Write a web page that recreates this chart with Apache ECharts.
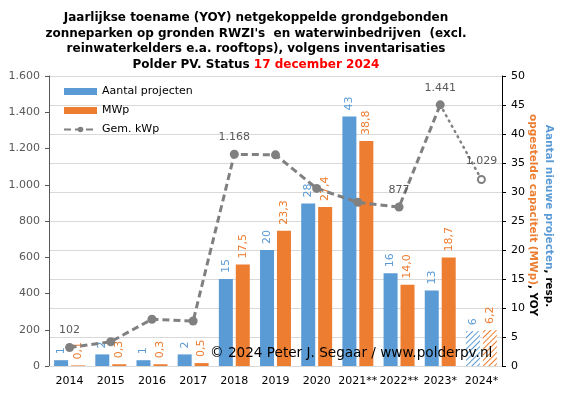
<!DOCTYPE html>
<html>
<head>
<meta charset="utf-8">
<script src="https://cdn.jsdelivr.net/npm/echarts/dist/echarts.min.js"></script>
<style>
  html, body { margin: 0; padding: 0; background: #fff; }
  #chart { width: 561px; height: 396px; }
</style>
</head>
<body>
<div id="chart"></div>
<script>
// jaren (2021/2022 ** en 2023/2024 * zoals in origineel)
var jaren = ['2014', '2015', '2016', '2017', '2018', '2019', '2020', '2021**', '2022**', '2023*', '2024*'];
// aantal nieuwe projecten per jaar (rechter as)
var projecten = [1, 2, 1, 2, 15, 20, 28, 43, 16, 13, 6];
// opgestelde capaciteit MWp per jaar (rechter as)
var mwp = [0.1, 0.3, 0.3, 0.5, 17.5, 23.3, 27.4, 38.8, 14.0, 18.7, 6.2];
// gemiddelde kWp per project (linker as)
var gemKwp = [102, 134, 258, 248, 1168, 1165, 980, 903, 877, 1441, 1029];
// welke punten een label krijgen
var kwpLabels = [0, 4, 8, 9];
var linksTicks = [0, 1600, 200];
var rechtsTicks = [0, 50, 5];

var blauw = '#5b9bd5', oranje = '#ed7d31', grijs = '#808080';
var font = 'DejaVu Sans';
var laatste = jaren.length - 1;

function punt(v) {
  return String(v).replace(/\B(?=(\d{3})+(?!\d))/g, '.');
}

function arcering(kleur) {
  return {
    color: '#fff',
    decal: {
      symbol: 'rect', symbolSize: 1,
      dashArrayX: [1, 0], dashArrayY: [1, 3],
      rotation: -Math.PI / 4,
      color: kleur
    }
  };
}

var projData = projecten.map(function (v, i) {
  return i == laatste ? { value: v, itemStyle: arcering(blauw) } : v;
});
var mwpData = mwp.map(function (v, i) {
  return i == laatste ? { value: v, itemStyle: arcering(oranje) } : v;
});
var gestreept = gemKwp.map(function (v, i) { return i < laatste ? v : '-'; });
var gestippeld = gemKwp.map(function (v, i) { return i >= laatste - 1 ? v : '-'; });

var chart = echarts.init(document.getElementById('chart'));
chart.setOption({
  animation: false,
  textStyle: { fontFamily: font },
  title: {
    left: 251, top: 5, textAlign: 'center',
    text: 'Jaarlijkse toename (YOY) netgekoppelde grondgebonden\nzonneparken op gronden RWZI\'s  en waterwinbedrijven  (excl.\nreinwaterkelders e.a. rooftops), volgens inventarisaties\nPolder PV. Status {r|17 december 2024}',
    textStyle: {
      fontFamily: font, fontSize: 12, fontWeight: 'bold', color: '#000', lineHeight: 15.6, align: 'center',
      rich: { r: { color: '#ff0000', fontFamily: font, fontSize: 12, fontWeight: 'bold', lineHeight: 15.6 } }
    }
  },
  legend: {
    orient: 'vertical', left: 58, top: 81,
    itemWidth: 33, itemHeight: 7, itemGap: 8,
    textStyle: { fontFamily: font, fontSize: 11, color: '#000' },
    data: [
      { name: 'Aantal projecten', icon: 'rect' },
      { name: 'MWp', icon: 'rect' },
      { name: 'Gem. kWp' }
    ]
  },
  grid: { left: 49, right: 59, top: 76, bottom: 30 },
  xAxis: {
    type: 'category',
    data: jaren,
    axisLine: { lineStyle: { color: '#d9d9d9' } },
    axisTick: { show: false },
    axisLabel: { color: '#000', fontSize: 11, margin: 10, interval: 0 }
  },
  yAxis: [{
    type: 'value',
    min: linksTicks[0], max: linksTicks[1], interval: linksTicks[2],
    axisLine: { show: true, lineStyle: { color: '#595959' } },
    axisTick: { show: true, length: 4, lineStyle: { color: '#595959' } },
    splitLine: { show: false },
    axisLabel: { color: '#595959', fontSize: 11, margin: 9, formatter: punt }
  }, {
    type: 'value',
    min: rechtsTicks[0], max: rechtsTicks[1], interval: rechtsTicks[2],
    axisLine: { show: true, lineStyle: { color: '#000' } },
    axisTick: { show: true, length: 4, lineStyle: { color: '#000' } },
    splitLine: { show: true, lineStyle: { color: '#d9d9d9' } },
    axisLabel: { color: '#000', fontSize: 11, margin: 9 }
  }],
  series: [{
    name: 'Aantal projecten',
    type: 'bar',
    yAxisIndex: 1,
    data: projData,
    barWidth: 14,
    barGap: '21%',
    itemStyle: { color: blauw },
    label: {
      show: true, position: 'top', rotate: 90, align: 'left', verticalAlign: 'middle',
      distance: 6, color: blauw, fontSize: 11
    }
  }, {
    name: 'MWp',
    type: 'bar',
    yAxisIndex: 1,
    data: mwpData,
    barWidth: 14,
    itemStyle: { color: oranje },
    label: {
      show: true, position: 'top', rotate: 90, align: 'left', verticalAlign: 'middle',
      distance: 6, color: oranje, fontSize: 11,
      formatter: function (p) { return p.value.toFixed(1).replace('.', ','); }
    }
  }, {
    name: 'Gem. kWp',
    type: 'line',
    yAxisIndex: 0,
    data: gestreept,
    symbol: 'circle', symbolSize: 9,
    itemStyle: { color: grijs },
    lineStyle: { color: grijs, width: 3, type: [7, 4] },
    label: {
      show: true, position: 'top', distance: 7, color: '#595959', fontSize: 11,
      formatter: function (p) { return kwpLabels.indexOf(p.dataIndex) >= 0 ? punt(p.value) : ''; }
    },
    z: 5
  }, {
    name: 'Gem. kWp 2024',
    type: 'line',
    yAxisIndex: 0,
    data: gestippeld,
    symbol: function (v, p) { return p.dataIndex == laatste ? 'circle' : 'none'; },
    symbolSize: 7,
    itemStyle: { color: '#fff', borderColor: grijs, borderWidth: 2 },
    lineStyle: { color: grijs, width: 2.5, type: [1, 5], cap: 'round' },
    label: {
      show: true, position: 'top', distance: 8, color: '#595959', fontSize: 11,
      formatter: function (p) { return p.dataIndex == laatste ? punt(p.value) : ''; }
    },
    z: 4
  }],
  graphic: [{
    type: 'text', left: 210, top: 346, z: 100,
    style: { text: '© 2024 Peter J. Segaar / www.polderpv.nl', fill: '#000', font: '13.6px "DejaVu Sans"' }
  }, {
    type: 'text', x: 549, y: 216, rotation: -Math.PI / 2, z: 100,
    style: {
      text: '{b|Aantal nieuwe projecten}{k|, resp.}',
      align: 'center', verticalAlign: 'middle',
      rich: {
        b: { fill: blauw, font: 'bold 10.5px "DejaVu Sans"' },
        k: { fill: '#000', font: 'bold 10.5px "DejaVu Sans"' }
      }
    }
  }, {
    type: 'text', x: 533, y: 215, rotation: -Math.PI / 2, z: 100,
    style: {
      text: '{o|opgestelde capaciteit (MWp)}{k|, YOY}',
      align: 'center', verticalAlign: 'middle',
      rich: {
        o: { fill: oranje, font: 'bold 10.5px "DejaVu Sans"' },
        k: { fill: '#000', font: 'bold 10.5px "DejaVu Sans"' }
      }
    }
  }]
});
</script>
</body>
</html>
